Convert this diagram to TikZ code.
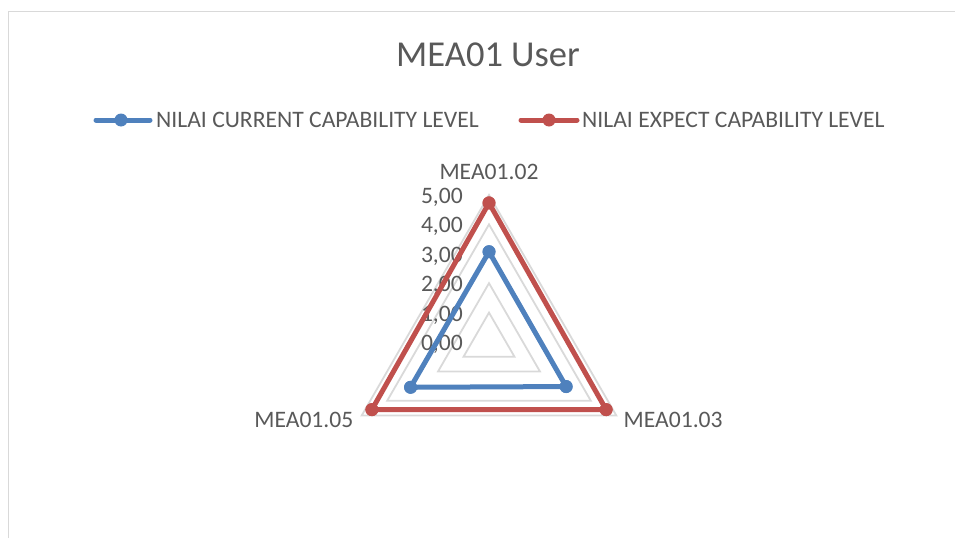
\documentclass[tikz,border=0pt]{standalone}
\usepackage{fontspec}
\setmainfont{Carlito}
\usetikzlibrary{calc}
\definecolor{txtgray}{HTML}{595959}
\definecolor{gridgray}{HTML}{D9D9D9}
\definecolor{framegray}{HTML}{D9D9D9}
\definecolor{serblue}{HTML}{4F81BD}
\definecolor{serred}{HTML}{C0504D}
\tikzset{
  lbl/.style={inner sep=0pt, text=txtgray, font=\fontsize{23.6}{27}\selectfont},
  ttl/.style={inner sep=0pt, text=txtgray, font=\fontsize{36.5}{42}\selectfont},
  gridline/.style={draw=gridgray, line width=1.8pt},
  bline/.style={draw=serblue, line width=5pt, line join=round, line cap=round},
  rline/.style={draw=serred, line width=5pt, line join=round, line cap=round},
  bdot/.style={circle, fill=serblue, minimum size=13pt, inner sep=0pt},
  rdot/.style={circle, fill=serred, minimum size=13pt, inner sep=0pt},
}
\begin{document}
\begin{tikzpicture}[x=1pt,y=-1pt]
\useasboundingbox (0,0) rectangle (955,538);
\draw[framegray, line width=1.5pt] (8.5,538) -- (8.5,11.5) -- (955,11.5);

% title
\node[ttl, anchor=base] (title) at (488,66.7) {MEA01 User};

% legend
\coordinate (lbA) at (96,120);
\coordinate (lbB) at (150,120);
\draw[bline] (lbA) -- (lbB);
\node[bdot] (lbdot) at (121,120) {};
\node[lbl, anchor=west] (lbtext) at (156,120) {NILAI CURRENT CAPABILITY LEVEL};
\coordinate (lrA) at (521,120);
\coordinate (lrB) at (577,120);
\draw[rline] (lrA) -- (lrB);
\node[rdot] (lrdot) at (549,120) {};
\node[lbl, anchor=west] (lrtext) at (582,120) {NILAI EXPECT CAPABILITY LEVEL};

% radar grid
\coordinate (c) at (489,342);
\def\u{29.4}
\foreach \k in {1,...,5}{
  \draw[gridline] ($(c)+(0,-\k*\u)$) -- ($(c)+(0.866*\k*\u,0.5*\k*\u)$) -- ($(c)+(-0.866*\k*\u,0.5*\k*\u)$) -- cycle;
}
% tick labels
\foreach \k/\t in {0/{0,00},1/{1,00},2/{2,00},3/{3,00},4/{4,00},5/{5,00}}{
  \node[lbl, anchor=base east] (tick\k) at ($(c)+(-26,-\k*\u+8.5)$) {\t};
}
% axis labels
\node[lbl] (ax1) at (489,172.3) {MEA01.02};
\node[lbl, anchor=west] (ax2) at (623.5,420.3) {MEA01.03};
\node[lbl, anchor=east] (ax3) at (353.5,420.3) {MEA01.05};

% series: expected (red)
\node[rdot] (r1) at ($(c)+(0,-4.73*\u)$) {};
\node[rdot] (r2) at ($(c)+(0.866*4.6*\u,0.5*4.6*\u)$) {};
\node[rdot] (r3) at ($(c)+(-0.866*4.6*\u,0.5*4.6*\u)$) {};
\draw[rline] (r1.center) -- (r2.center) -- (r3.center) -- cycle;
\node[rdot] at (r1) {};
\node[rdot] at (r2) {};
\node[rdot] at (r3) {};

% series: current (blue)
\node[bdot] (b1) at ($(c)+(0,-3.07*\u)$) {};
\node[bdot] (b2) at ($(c)+(0.866*3.03*\u,0.5*3.03*\u)$) {};
\node[bdot] (b3) at ($(c)+(-0.866*3.08*\u,0.5*3.08*\u)$) {};
\draw[bline] (b1.center) -- (b2.center) -- (b3.center) -- cycle;
\node[bdot] at (b1) {};
\node[bdot] at (b2) {};
\node[bdot] at (b3) {};
\end{tikzpicture}
\end{document}
